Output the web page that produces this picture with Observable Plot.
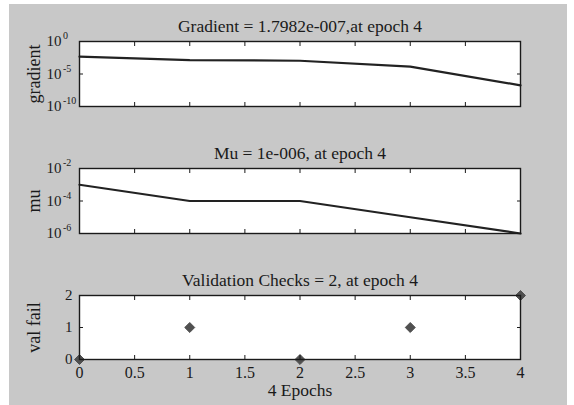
<!DOCTYPE html>
<html>
<head>
<meta charset="utf-8">
<script src="https://cdn.jsdelivr.net/npm/d3@7"></script>
<script src="https://cdn.jsdelivr.net/npm/@observablehq/plot@0.6"></script>
<style>
  html, body { margin: 0; padding: 0; background: #ffffff; }
  #chart { position: relative; width: 574px; height: 405px; overflow: hidden; background: #ffffff; }
  #bg { position: absolute; left: 9px; top: 4px; width: 558px; height: 401px; background: #c8c8c8; }
  #chart svg { display: block; position: absolute; left: 0; }
</style>
</head>
<body>
<div id="chart"><div id="bg"></div></div>
<script>
const epochs = [0, 1, 2, 3, 4];
const gradient = [4.6e-3, 1.4e-3, 1.1e-3, 1.35e-4, 1.7982e-7];
const mu = [1e-3, 1e-4, 1e-4, 1e-5, 1e-6];
const valFail = [0, 1, 0, 1, 2];
const xTicks = [0, 0.5, 1, 1.5, 2, 2.5, 3, 3.5, 4];
const gradTicks = [1e-10, 1e-5, 1];
const muTicks = [1e-6, 1e-4, 1e-2];
const valTicks = [0, 1, 2];
const titles = ["Gradient = 1.7982e-007,at epoch 4", "Mu = 1e-006, at epoch 4", "Validation Checks = 2, at epoch 4"];
const yLabels = ["gradient", "mu", "val fail"];
const xLabel = "4 Epochs";

const font = "'Liberation Serif', 'DejaVu Serif', serif";
const blank = () => "";
const ink = "#1a1a1a";

function panel({top, height, mt, mb, yOpts, yTicks, isLog, dataMarks, title, ylabel, showX}) {
  const marks = [
    Plot.frame({fill: "white", stroke: null}),
    ...dataMarks,
    Plot.axisX({anchor: "bottom", ticks: xTicks, tickSize: -4, tickPadding: 11, tickFormat: showX ? (d => String(d)) : blank, label: null, fontSize: 16, stroke: ink, fill: ink}),
    Plot.axisX({anchor: "top", ticks: xTicks, tickSize: -4, tickPadding: 10, tickFormat: blank, label: null, stroke: ink}),
    isLog
      ? Plot.axisY({anchor: "left", ticks: yTicks, tickSize: -4, tickPadding: 22, tickFormat: () => "10", label: null, fontSize: 15, stroke: ink, fill: ink})
      : Plot.axisY({anchor: "left", ticks: yTicks, tickSize: -4, tickPadding: 11, tickFormat: d => String(d), label: null, fontSize: 15, stroke: ink, fill: ink}),
    Plot.axisY({anchor: "right", ticks: yTicks, tickSize: -4, tickPadding: 10, tickFormat: blank, label: null, stroke: ink}),
    Plot.frame({stroke: ink, strokeWidth: 1.4}),
    Plot.text([title], {frameAnchor: "top", lineAnchor: "middle", dy: -15, text: d => d, fontSize: 17.5, fill: ink}),
    Plot.text([ylabel], {frameAnchor: "left", textAnchor: "middle", lineAnchor: "middle", dx: -45, rotate: -90, text: d => d, fontSize: 18, fill: ink})
  ];
  if (isLog) {
    // superscript exponents next to the "10" base of each log tick label
    marks.push(Plot.text(yTicks, {y: d => d, frameAnchor: "left", textAnchor: "start", lineAnchor: "middle", dx: -16.5, dy: -5.5, text: d => String(Math.round(Math.log10(d))), fontSize: 10, fill: ink}));
  }
  if (showX) marks.push(Plot.text([xLabel], {frameAnchor: "bottom", lineAnchor: "middle", dy: 31, text: d => d, fontSize: 17.5, fill: ink}));
  const svg = Plot.plot({
    width: 574, height,
    marginLeft: 79, marginRight: 54, marginTop: mt, marginBottom: mb,
    style: {background: "transparent", fontFamily: font, fontSize: "16px", color: ink, overflow: "visible"},
    x: {domain: [0, 4]},
    y: yOpts,
    marks
  });
  svg.style.top = top + "px";
  return svg;
}

const gData = epochs.map((e, i) => ({epoch: e, v: gradient[i]}));
const mData = epochs.map((e, i) => ({epoch: e, v: mu[i]}));
const vData = epochs.map((e, i) => ({epoch: e, v: valFail[i]}));

const p1 = panel({
  top: 0, height: 130, mt: 41, mb: 24,
  yOpts: {type: "log", domain: [1e-10, 1]}, yTicks: gradTicks, isLog: true,
  dataMarks: [Plot.line(gData, {x: "epoch", y: "v", stroke: "#222", strokeWidth: 2.2})],
  title: titles[0], ylabel: yLabels[0], showX: false
});
const p2 = panel({
  top: 130, height: 125, mt: 38, mb: 22,
  yOpts: {type: "log", domain: [1e-6, 1e-2]}, yTicks: muTicks, isLog: true,
  dataMarks: [Plot.line(mData, {x: "epoch", y: "v", stroke: "#222", strokeWidth: 2.2})],
  title: titles[1], ylabel: yLabels[1], showX: false
});
const p3 = panel({
  top: 255, height: 150, mt: 40, mb: 46,
  yOpts: {domain: [0, 2]}, yTicks: valTicks, isLog: false,
  dataMarks: [Plot.dot(vData, {x: "epoch", y: "v", symbol: "diamond2", r: 4.5, fill: "#505050", stroke: "#505050", strokeWidth: 1})],
  title: titles[2], ylabel: yLabels[2], showX: true
});

const chart = document.getElementById("chart");
[p1, p2, p3].forEach(p => chart.appendChild(p));
</script>
</body>
</html>
